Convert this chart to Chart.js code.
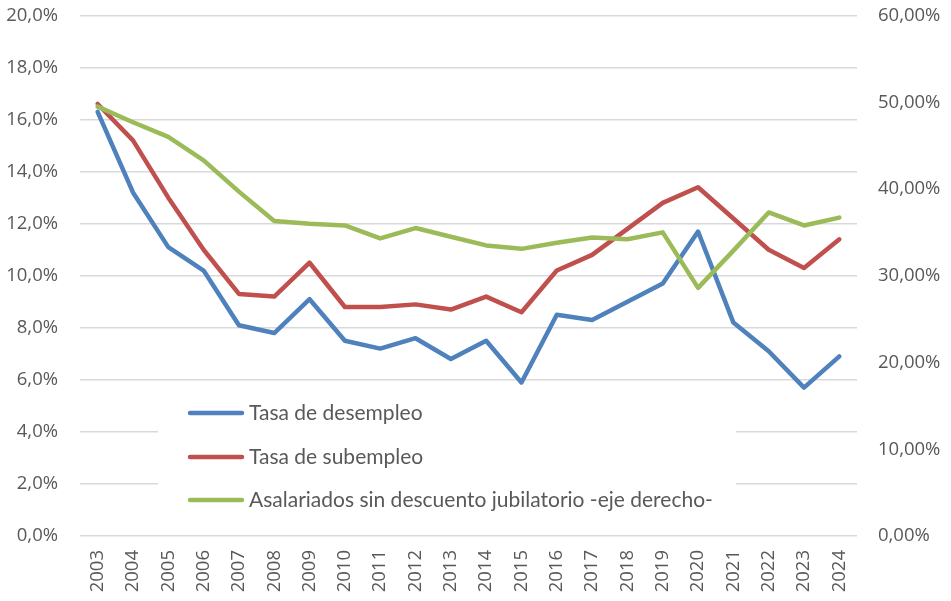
<!DOCTYPE html>
<html>
<head>
<meta charset="utf-8">
<script src="https://cdn.jsdelivr.net/npm/chart.js@4/dist/chart.umd.min.js"></script>
<style>
  html, body { margin: 0; padding: 0; background: #fff; }
  #c { display: block; }
</style>
</head>
<body>
<canvas id="c" width="951" height="601"></canvas>
<script>
const years = ['2003','2004','2005','2006','2007','2008','2009','2010','2011','2012','2013','2014','2015','2016','2017','2018','2019','2020','2021','2022','2023','2024'];
const desempleo = [16.3, 13.2, 11.1, 10.2, 8.1, 7.8, 9.1, 7.5, 7.2, 7.6, 6.8, 7.5, 5.9, 8.5, 8.3, 9.0, 9.7, 11.7, 8.2, 7.1, 5.7, 6.9];
const subempleo = [16.6, 15.2, 13.0, 11.0, 9.3, 9.2, 10.5, 8.8, 8.8, 8.9, 8.7, 9.2, 8.6, 10.2, 10.8, 11.8, 12.8, 13.4, 12.2, 11.0, 10.3, 11.4];
const asalariados = [49.5, 47.7, 46.0, 43.3, 39.7, 36.3, 36.0, 35.8, 34.3, 35.5, 34.5, 33.5, 33.1, 33.8, 34.4, 34.2, 35.0, 28.6, 32.9, 37.3, 35.8, 36.7];
const seriesLabels = ['Tasa de desempleo', 'Tasa de subempleo', 'Asalariados sin descuento jubilatorio -eje derecho-'];
const leftTicks = [0, 2, 4, 6, 8, 10, 12, 14, 16, 18, 20];
const rightTicks = [0, 10, 20, 30, 40, 50, 60];

const textColor = '#595959';
const gridColor = '#d9d9d9';

const insideLegend = {
  id: 'insideLegend',
  afterDatasetsDraw(chart) {
    const ctx = chart.ctx;
    const a = chart.chartArea;
    ctx.save();
    ctx.fillStyle = '#ffffff';
    ctx.fillRect(a.left + 78, 394, 578, 130);
    ctx.font = '21px Lato, "Open Sans", sans-serif';
    ctx.textBaseline = 'middle';
    ctx.textAlign = 'left';
    const rows = [413, 457, 500];
    chart.data.datasets.forEach((ds, i) => {
      const y = rows[i];
      ctx.strokeStyle = ds.borderColor;
      ctx.lineWidth = 4.5;
      ctx.lineCap = 'round';
      ctx.beginPath();
      ctx.moveTo(190, y);
      ctx.lineTo(242, y);
      ctx.stroke();
      ctx.fillStyle = textColor;
      ctx.fillText(ds.label, 249, y);
    });
    ctx.restore();
  }
};

new Chart(document.getElementById('c'), {
  type: 'line',
  data: {
    labels: years,
    datasets: [
      { label: seriesLabels[0], data: desempleo, borderColor: '#4f81bd', yAxisID: 'y', order: 2 },
      { label: seriesLabels[1], data: subempleo, borderColor: '#c0504d', yAxisID: 'y', order: 1 },
      { label: seriesLabels[2], data: asalariados, borderColor: '#9bbb59', yAxisID: 'y1', order: 0 }
    ]
  },
  options: {
    responsive: false,
    animation: false,
    layout: { padding: { top: 15.5, left: 0, right: 0, bottom: 0 } },
    elements: {
      line: { borderWidth: 4.5, tension: 0, borderJoinStyle: 'round', borderCapStyle: 'round', fill: false },
      point: { radius: 0, hoverRadius: 0 }
    },
    plugins: { legend: { display: false }, tooltip: { enabled: false } },
    scales: {
      x: {
        offset: true,
        grid: { display: false, drawTicks: false },
        border: { display: false },
        ticks: {
          color: textColor, font: { family: '"Open Sans", sans-serif', size: 18.5 },
          maxRotation: 90, minRotation: 90, padding: 14, autoSkip: false
        },
        afterFit(s) { s.height = 65; }
      },
      y: {
        position: 'left',
        min: 0, max: 20,
        afterBuildTicks(s) { s.ticks = leftTicks.map(v => ({ value: v })); },
        grid: { color: gridColor, lineWidth: 1.5, drawTicks: true, tickLength: 22, tickColor: 'rgba(0,0,0,0)' },
        border: { display: false },
        ticks: {
          color: textColor, font: { family: '"Open Sans", sans-serif', size: 18.5 }, padding: 0,
          callback: v => v.toFixed(1).replace('.', ',') + '%'
        },
        afterFit(s) { s.width = 80; }
      },
      y1: {
        position: 'right',
        min: 0, max: 60,
        afterBuildTicks(s) { s.ticks = rightTicks.map(v => ({ value: v })); },
        grid: { display: true, drawOnChartArea: false, drawTicks: true, tickLength: 21, tickColor: 'rgba(0,0,0,0)' },
        border: { display: false },
        ticks: {
          color: textColor, font: { family: '"Open Sans", sans-serif', size: 18.5 }, padding: 0,
          callback: v => v.toFixed(2).replace('.', ',') + '%'
        },
        afterFit(s) { s.width = 94; }
      }
    }
  },
  plugins: [insideLegend]
});
</script>
</body>
</html>
